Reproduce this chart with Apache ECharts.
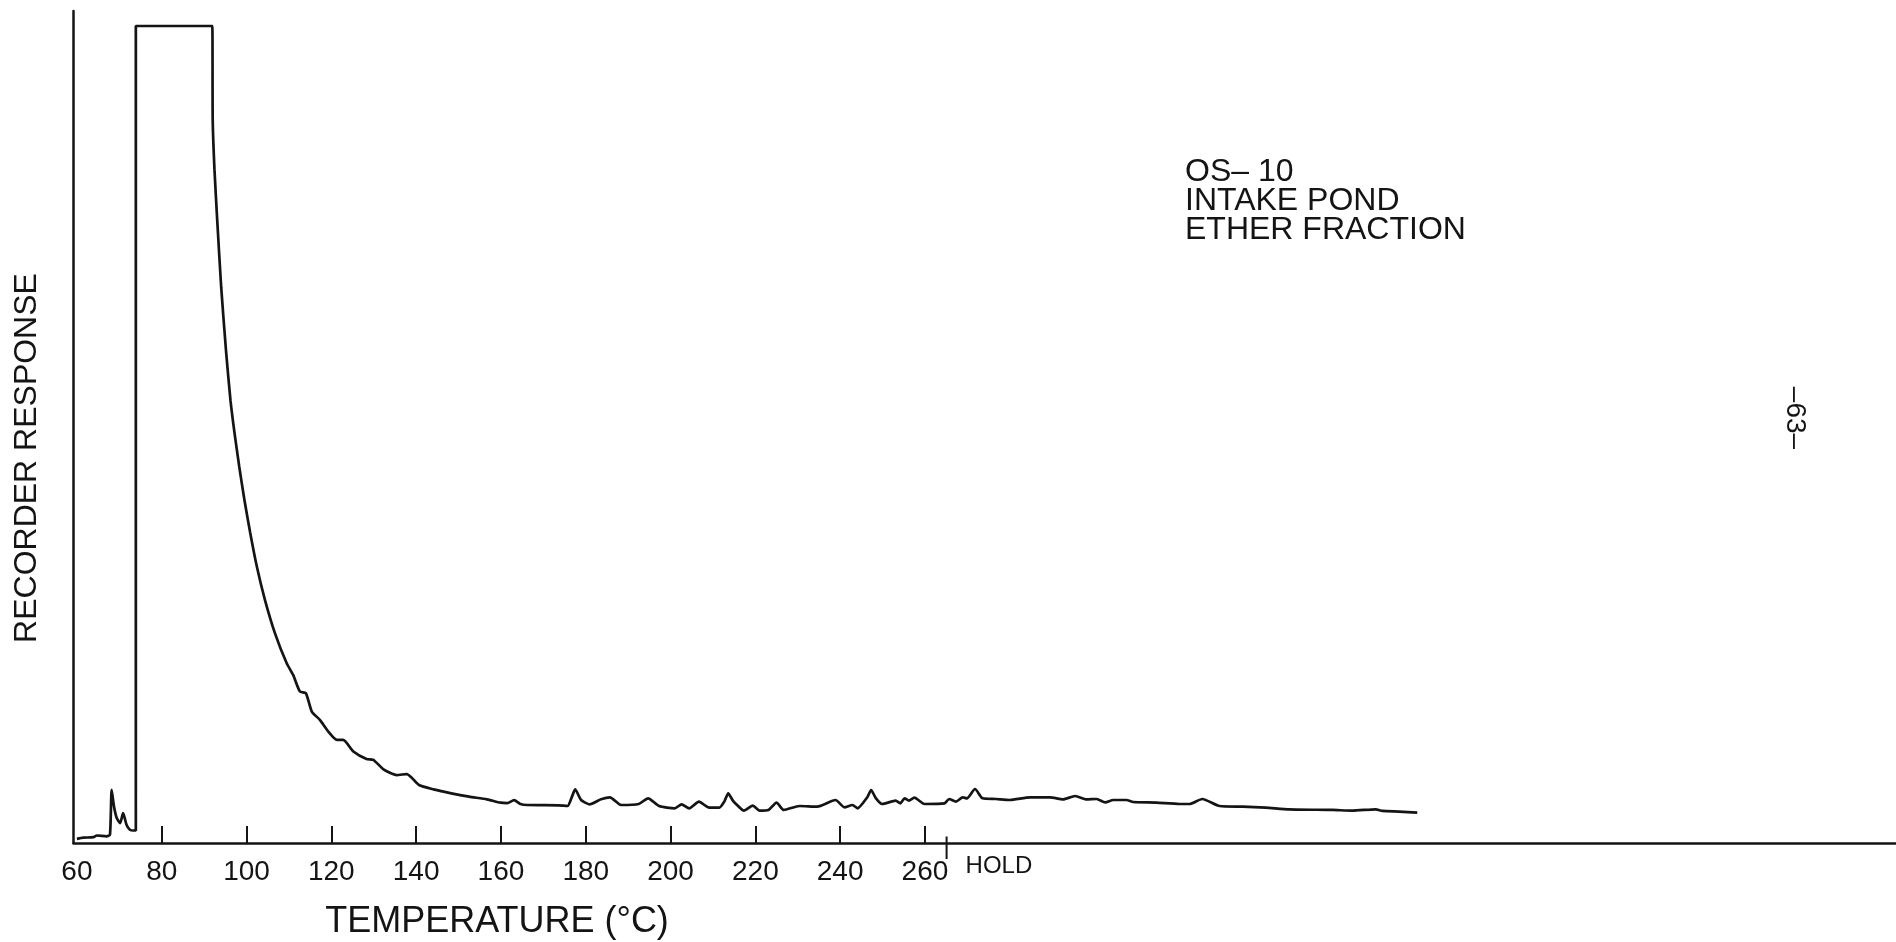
<!DOCTYPE html>
<html>
<head>
<meta charset="utf-8">
<title>OS-10 Intake Pond ether fraction</title>
<script src="https://cdn.jsdelivr.net/npm/echarts@6/dist/echarts.min.js"></script>
<style>
  html, body { margin: 0; padding: 0; background: #fff; }
  #chart { width: 1896px; height: 942px; }
</style>
</head>
<body>
<div id="chart"></div>
<script>
// column temperature (deg C)
const tempC = [
  60.0, 61.5, 63.9, 64.7, 67.0, 67.8, 68.2, 68.75, 69.4, 70.2, 70.9, 71.7, 72.5, 73.35,
  73.9, 73.9, 91.93, 92.03, 92.45, 93.09, 94.03, 95.21, 96.22, 97.17, 98.30, 99.52, 100.87,
  102.45, 104.36, 106.72, 109.48, 111.0, 112.6, 114.0, 115.4, 117.3, 119.3, 121.3, 122.8,
  125.2, 128.3, 129.9, 132.3, 135.4, 137.8, 140.7, 144.1, 148.3, 152.5, 156.7, 159.9,
  161.5, 163.1, 164.6, 166.2, 173.6, 175.7, 176.7, 177.5, 178.9, 180.9, 183.6, 185.7,
  188.3, 192.5, 194.7, 197.3, 201.0, 202.6, 204.4, 206.7, 208.9, 211.5, 212.7, 213.6,
  214.7, 215.7, 217.3, 219.4, 221.0, 223.1, 225.0, 226.7, 230.4, 234.6, 238.9, 241.0,
  242.9, 244.1, 246.4, 247.3, 248.4, 249.9, 253.1, 254.2, 255.2, 256.2, 257.5, 259.9,
  264.6, 265.7, 267.3, 268.9, 269.9, 271.8, 273.6, 276.7, 280.0, 284.8, 289.5, 292.6,
  295.4, 298.1, 300.5, 302.5, 304.4, 307.5, 309.1, 314.6, 320.0, 322.4, 325.4, 329.5,
  334.9, 340.4, 345.9, 356.1, 360.8, 366.3, 367.9, 371.8, 376.1
];
// recorder response, percent of full scale
const response = [
  0.5, 0.64, 0.7, 0.9, 0.8, 1.0, 6.4, 4.4, 3.0, 2.4, 3.6, 2.2, 1.6, 1.5,
  1.5, 98.2, 98.2, 86.9, 80.9, 74.9, 66.8, 58.9, 53.2, 49.3, 45.2, 41.2, 37.3,
  33.2, 29.2, 25.2, 21.6, 20.2, 18.2, 18.0, 15.8, 14.8, 13.4, 12.4, 12.4,
  11.0, 10.1, 10.0, 8.86, 8.17, 8.29, 6.97, 6.45, 5.97, 5.57, 5.25, 4.85,
  4.8, 5.15, 4.7, 4.57, 4.53, 4.45, 5.5, 6.45, 5.17, 4.65, 5.25, 5.49,
  4.57, 4.69, 5.37, 4.45, 4.17, 4.65, 4.17, 4.97, 4.29, 4.25, 5.0, 5.97,
  5.1, 4.57, 3.89, 4.49, 3.89, 3.97, 4.85, 3.97, 4.45, 4.37, 5.17, 4.29,
  4.57, 4.17, 5.5, 6.37, 5.4, 4.69, 5.09, 4.77, 5.37, 5.09, 5.45, 4.69,
  4.77, 5.29, 4.97, 5.49, 5.37, 6.49, 5.37, 5.29, 5.17, 5.49, 5.49, 5.25,
  5.65, 5.25, 5.29, 4.89, 5.17, 5.17, 4.93, 4.85, 4.69, 4.69, 5.29, 4.45,
  4.37, 4.25, 4.05, 3.97, 3.89, 4.05, 3.85, 3.77, 3.65
];
const tickTemps = [80, 100, 120, 140, 160, 180, 200, 220, 240, 260];
const labelTemps = [60, 80, 100, 120, 140, 160, 180, 200, 220, 240, 260];
const holdTemp = 265.1;
const titleLines = ['OS\u2013 10', 'INTAKE POND', 'ETHER FRACTION'];

const ink = '#141414';
const fontFam = '"Liberation Sans", Arial, sans-serif';

let chart = echarts.init(document.getElementById('chart'));
chart.setOption({
  animation: false,
  backgroundColor: '#fff',
  grid: { left: 73.5, right: 0, top: 11, bottom: 99 },
  xAxis: {
    type: 'value',
    min: 59.2,
    max: 489,
    splitLine: { show: false },
    axisLine: { lineStyle: { color: ink, width: 2.5 } },
    axisTick: {
      inside: true,
      length: 17,
      customValues: tickTemps,
      lineStyle: { color: ink, width: 2 }
    },
    axisLabel: {
      customValues: labelTemps,
      margin: 15,
      color: ink,
      fontSize: 28,
      fontFamily: fontFam
    }
  },
  yAxis: {
    type: 'value',
    min: 0,
    max: 100,
    splitLine: { show: false },
    axisLine: { show: true, lineStyle: { color: ink, width: 2.5 } },
    axisTick: { show: false },
    axisLabel: { show: false }
  },
  series: [{
    type: 'line',
    data: tempC.map((t, i) => [t, response[i]]),
    showSymbol: false,
    smooth: 0.2,
    lineStyle: { color: ink, width: 2.7 }
  }]
});

// annotations, placed through the chart's own scales
const holdX = chart.convertToPixel({ xAxisIndex: 0 }, holdTemp);
const baseY = chart.convertToPixel({ yAxisIndex: 0 }, 0);
const txt = (x, y, text, size, extra) => ({
  type: 'text', x: x, y: y,
  style: Object.assign({ text: text, fill: ink, font: size + 'px ' + fontFam, textVerticalAlign: 'middle' }, extra || {})
});

let graphics = [
  { type: 'line', shape: { x1: holdX, y1: baseY - 6.5, x2: holdX, y2: baseY + 16 }, style: { stroke: ink, lineWidth: 2 } },
  txt(holdX + 19, baseY + 23, 'HOLD', 24),
  txt(497, 922, 'TEMPERATURE (\u00b0C)', 36, { textAlign: 'center' }),
  Object.assign(txt(27, 458, 'RECORDER RESPONSE', 32, { textAlign: 'center' }), { rotation: Math.PI / 2 }),
  Object.assign(txt(1795, 418, '\u201363\u2013', 28, { textAlign: 'center' }), { rotation: -Math.PI / 2 })
];
titleLines.forEach((line, i) => {
  graphics.push(txt(1185, 172 + i * 29, line, 32));
});
chart.setOption({ graphic: graphics });
</script>
</body>
</html>
